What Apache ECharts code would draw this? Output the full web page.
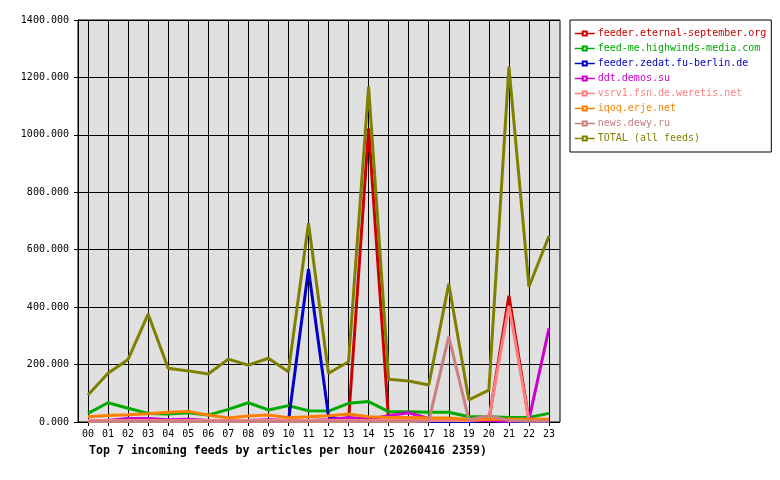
<!DOCTYPE html>
<html>
<head>
<meta charset="utf-8">
<script src="https://cdn.jsdelivr.net/npm/echarts@6/dist/echarts.min.js"></script>
<style>
  html, body { margin: 0; padding: 0; background: #fff; }
  #chart { width: 780px; height: 480px; }
</style>
</head>
<body>
<div id="chart"></div>
<script>
// hours on the x axis
var hours = ['00','01','02','03','04','05','06','07','08','09','10','11',
             '12','13','14','15','16','17','18','19','20','21','22','23'];

// articles per hour
var eternalSeptember = [3,3,3,3,3,3,3,3,3,3,3,3,3,5,1023,5,5,3,3,3,5,440,5,5];
var highwinds = [30,67,48,30,28,32,24,44,67,42,57,39,38,65,71,36,36,34,34,18,18,16,16,30];
var zedat = [2,2,2,2,2,2,2,2,2,2,3,532,20,2,2,2,2,2,2,2,5,2,2,2];
var demos = [5,5,12,12,8,10,5,5,5,8,5,5,8,16,10,22,32,12,5,5,5,3,8,326];
var weretis = [5,5,5,5,5,5,5,5,5,5,5,5,5,5,5,5,5,5,5,5,10,405,5,5];
var erje = [18,23,25,29,34,37,24,14,21,24,15,18,22,28,18,16,16,14,14,9,10,10,10,10];
var dewy = [2,2,2,2,2,2,2,2,2,2,2,2,2,2,2,2,2,3,297,8,22,5,3,3];
var total = [94,170,218,376,187,178,167,219,198,222,175,692,170,210,1168,149,143,129,481,77,111,1237,471,648];

var feedNames = ['feeder.eternal-september.org','feed-me.highwinds-media.com','feeder.zedat.fu-berlin.de',
                 'ddt.demos.su','vsrv1.fsn.de.weretis.net','iqoq.erje.net','news.dewy.ru','TOTAL (all feeds)'];
var feedColors = ['#cc0000','#00aa00','#0000cc','#cc00cc','#ff8080','#ff8000','#c88080','#808000'];
var feedData = [eternalSeptember, highwinds, zedat, demos, weretis, erje, dewy, total];

var mono = 'DejaVu Sans Mono';
var chart = echarts.init(document.getElementById('chart'));

var series = [];
for (var i = 0; i < feedNames.length; i++) {
    series.push({
        name: feedNames[i],
        type: 'line',
        xAxisIndex: 0,
        yAxisIndex: 0,
        data: feedData[i],
        symbol: 'emptyRect',
        symbolSize: 4,
        showSymbol: false,
        animation: false,
        lineStyle: { width: 3, color: feedColors[i] },
        itemStyle: { color: feedColors[i] }
    });
}

var legendData = feedNames.map(function (n, i) {
    return { name: n, textStyle: { color: feedColors[i] } };
});

chart.setOption({
    animation: false,
    title: {
        text: 'Top 7 incoming feeds by articles per hour (20260416 2359)',
        left: 89,
        top: 445,
        padding: 0,
        textStyle: { fontFamily: mono, fontWeight: 'bold', fontSize: 11.6, color: '#000' }
    },
    legend: {
        data: legendData,
        orient: 'vertical',
        left: 570,
        top: 20,
        padding: [6, 5, 6, 4],
        itemGap: 0,
        itemWidth: 20,
        itemHeight: 5,
        backgroundColor: '#fff',
        borderColor: '#000',
        borderWidth: 1,
        lineStyle: { width: 1.5 },
        textStyle: { fontFamily: mono, fontSize: 10, lineHeight: 15, padding: [0, 0, 0, -2] }
    },
    grid: [
        { left: 88, top: 20, width: 461, height: 402, containLabel: false },
        { left: 78, top: 20, width: 482, height: 402, show: true,
          backgroundColor: '#e0e0e0', borderColor: '#000', borderWidth: 1 }
    ],
    xAxis: [
        {
            type: 'category', gridIndex: 0, data: hours, boundaryGap: false,
            axisLine: { show: false },
            axisTick: { show: true, length: 4, lineStyle: { color: '#000' } },
            axisLabel: { fontFamily: mono, fontSize: 10, color: '#000', margin: 7 },
            splitLine: { show: true, lineStyle: { color: '#000', width: 1 } }
        },
        { type: 'value', gridIndex: 1, min: 0, max: 1, show: false }
    ],
    yAxis: [
        { type: 'value', gridIndex: 0, min: 0, max: 1400, show: false },
        {
            type: 'value', gridIndex: 1, min: 0, max: 1400, interval: 200,
            axisLine: { show: true, lineStyle: { color: '#000' } },
            axisTick: { show: true, length: 4, lineStyle: { color: '#000' } },
            axisLabel: {
                fontFamily: mono, fontSize: 10, color: '#000', margin: 9,
                formatter: function (v) { return v.toFixed(3); }
            },
            splitLine: { show: true, lineStyle: { color: '#000', width: 1 } }
        }
    ],
    series: series
});
</script>
</body>
</html>
